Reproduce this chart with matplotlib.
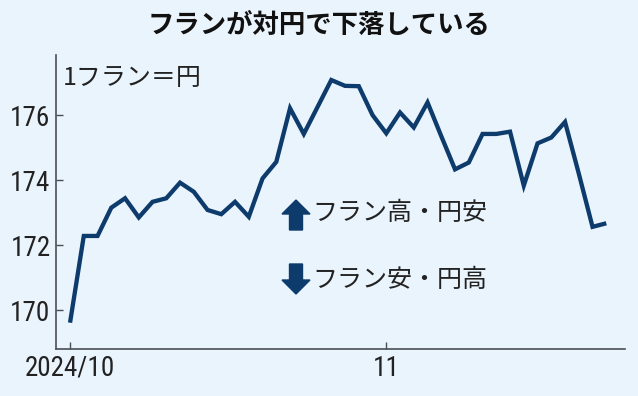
import matplotlib
matplotlib.use('Agg')
import matplotlib.pyplot as plt
from matplotlib.patches import FancyArrow
from matplotlib import font_manager

plt.rcParams['font.family'] = ['Noto Sans CJK JP', 'DejaVu Sans']

# 1フラン=円, daily (2024/10/1 - 2024/11/25)
rate = [169.61, 172.28, 172.28, 173.15, 173.44, 172.85, 173.33, 173.44, 173.92, 173.64,
        173.08, 172.95, 173.33, 172.87, 174.05, 174.56, 176.21, 175.42, 176.25, 177.08,
        176.90, 176.89, 176.00, 175.44, 176.08, 175.62, 176.39, 175.35, 174.33, 174.54,
        175.42, 175.42, 175.49, 173.83, 175.13, 175.31, 175.79, 174.20, 172.56, 172.67]
day = list(range(len(rate)))
tick_pos = [0, 23]
tick_labels = ['2024/10', '11']
y_ticks = [170, 172, 174, 176]

bg = '#eaf4fc'
navy = '#0d3b6c'
axis_col = '#4a4f55'

# narrow font for the numbers if there is one
names = {f.name for f in font_manager.fontManager.ttflist}
num_font = 'Roboto'
for cand in ['Liberation Sans Narrow', 'DejaVu Sans Condensed', 'Roboto Condensed']:
    if cand in names:
        num_font = cand
        break

fig = plt.figure(figsize=(6.38, 3.96), dpi=100, facecolor=bg)
ax = fig.add_axes([0.0878, 0.1187, 0.8918, 0.7424], facecolor=bg)

ax.plot(day, rate, color=navy, linewidth=3.1, solid_joinstyle='miter', solid_capstyle='butt')

ax.set_xlim(-1.02, 40.36)
ax.set_ylim(168.8, 177.85)
ax.set_xticks(tick_pos)
ax.set_xticklabels(tick_labels)
ax.set_yticks(y_ticks)

for s in ['top', 'right']:
    ax.spines[s].set_visible(False)
for s in ['left', 'bottom']:
    ax.spines[s].set_color(axis_col)
    ax.spines[s].set_linewidth(1.2)

ax.tick_params(direction='in', length=5, width=1, color=axis_col, pad=4)
for lab in ax.get_xticklabels() + ax.get_yticklabels():
    lab.set_family([num_font, 'DejaVu Sans'])
    lab.set_fontsize(19.5)
    lab.set_color('#222222')

fig.text(0.5, 0.936, 'フランが対円で下落している', ha='center', va='center',
         fontsize=19, fontweight='bold', color='#111111')
ax.text(0.012, 0.965, '1フラン＝円', transform=ax.transAxes, ha='left', va='top',
        fontsize=18, color='#222222')

fig.text(0.489, 0.462, 'フラン高・円安', ha='left', va='center', fontsize=18, color='#222222')
fig.text(0.489, 0.293, 'フラン安・円高', ha='left', va='center', fontsize=18, color='#222222')

# up / down arrows (figure fraction)
W, H = 638.0, 396.0
up = FancyArrow(296 / W, 1 - 230 / H, 0, 30 / H, width=13 / W, head_width=28 / W,
                head_length=14 / H, length_includes_head=True, color=navy,
                transform=fig.transFigure)
down = FancyArrow(296 / W, 1 - 264 / H, 0, -30 / H, width=13 / W, head_width=28 / W,
                  head_length=14 / H, length_includes_head=True, color=navy,
                  transform=fig.transFigure)
fig.patches.extend([up, down])

plt.savefig('out.png', dpi=100, facecolor=bg)
